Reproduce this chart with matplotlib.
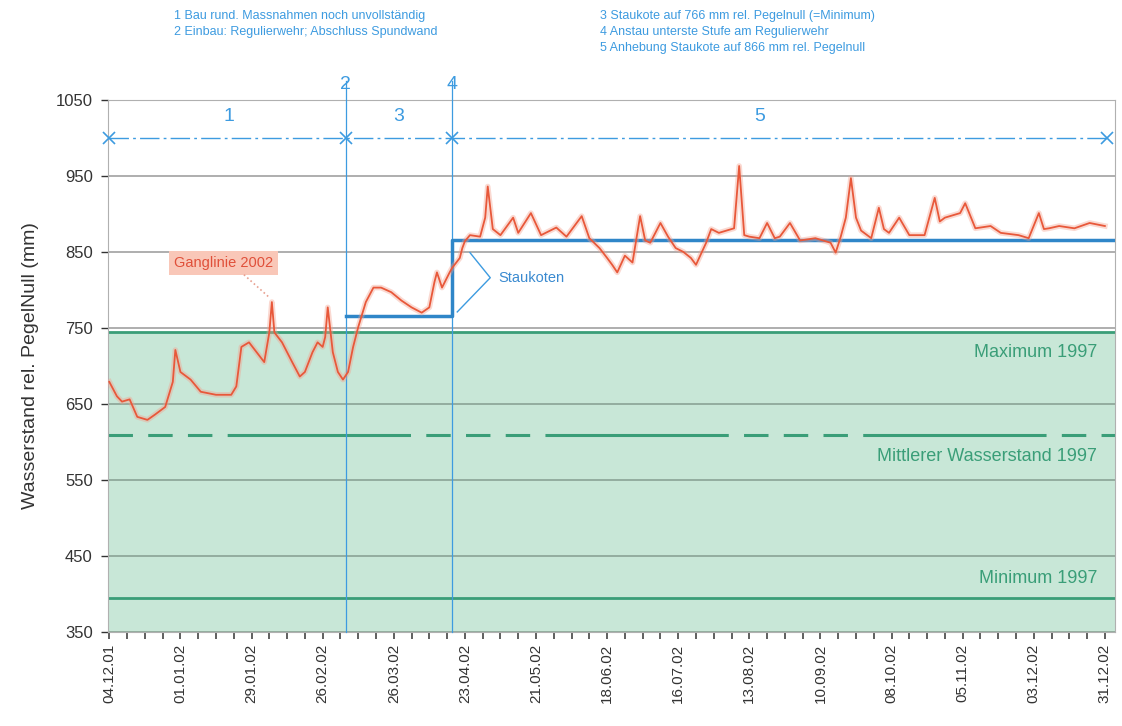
import matplotlib
matplotlib.use('Agg')
import matplotlib.pyplot as plt
import numpy as np
import pandas as pd

plt.rcParams['font.family'] = ['Liberation Sans', 'DejaVu Sans']

START = pd.Timestamp('2001-12-04')

# Ganglinie 2002: Tage ab 04.12.01 und Wasserstand (mm rel. PegelNull)
gang_tage = [0, 3, 5, 8, 11, 15, 18, 22, 25, 26, 28, 32, 36, 42, 48, 50, 52, 55,
             58, 61, 63, 64, 65, 68, 72, 75, 77, 80, 82, 84, 85, 86, 88, 90, 92,
             94, 96, 98, 101, 104, 107, 111, 115, 119, 123, 126, 128, 129, 131,
             134, 135, 138, 139, 140, 142, 146, 148, 149, 151, 154, 159, 161,
             166, 170, 176, 180, 186, 189, 193, 196, 198, 200, 203, 206, 209,
             211, 213, 217, 220, 223, 226, 229, 231, 235, 237, 240, 246, 248,
             250, 252, 256, 259, 262, 264, 268, 272, 278, 284, 286, 288, 290,
             292, 294, 296, 300, 303, 305, 307, 311, 315, 321, 325, 327, 329,
             335, 337, 341, 347, 351, 358, 362, 366, 368, 370, 374, 380, 386, 392]
gang_werte = [679, 660, 653, 656, 633, 629, 636, 646, 679, 721, 692, 682, 666,
              662, 662, 673, 725, 731, 718, 705, 744, 784, 744, 731, 705, 686,
              692, 718, 731, 725, 738, 777, 718, 692, 682, 692, 725, 751, 784,
              803, 803, 797, 786, 777, 770, 777, 810, 823, 803, 823, 829, 842,
              855, 864, 872, 870, 895, 936, 880, 872, 895, 875, 901, 872, 882,
              870, 897, 868, 855, 842, 833, 823, 845, 836, 897, 865, 862, 888,
              870, 855, 850, 842, 833, 862, 880, 875, 881, 963, 872, 870, 868,
              888, 868, 870, 888, 865, 868, 862, 849, 870, 895, 947, 895, 878,
              868, 908, 880, 875, 895, 872, 872, 921, 890, 895, 901, 914, 881,
              884, 875, 872, 868, 901, 880, 881, 884, 881, 888, 884]

# Staukoten
stau_tage = [93, 135, 135, 396]
stau_werte = [766, 766, 866, 866]

# Kennwerte 1997
max_1997 = 745
mittel_1997 = 609
min_1997 = 395

# Bauphasen
phasen_grenzen = [0, 93, 135, 393]
phasen_labels = ['1', '3', '5']
phasen_mitte = [47, 114, 256]
linien_tage = [93, 135]
linien_labels = ['2', '4']

legende_links = ['1 Bau rund. Massnahmen noch unvollständig',
                 '2 Einbau: Regulierwehr; Abschluss Spundwand']
legende_rechts = ['3 Staukote auf 766 mm rel. Pegelnull (=Minimum)',
                  '4 Anstau unterste Stufe am Regulierwehr',
                  '5 Anhebung Staukote auf 866 mm rel. Pegelnull']

BLUE = '#3d9be0'
GREEN = '#3a9e78'
RED = '#e8583a'


def d(tage):
    return START + pd.to_timedelta(np.asarray(tage), unit='D')


fig = plt.figure(figsize=(11.22, 7.26), dpi=100)
ax = fig.add_axes([0.0963, 0.1295, 0.8975, 0.733])

ax.set_ylim(350, 1050)
ax.set_xlim(START - pd.Timedelta(days=0.5), START + pd.Timedelta(days=396))

# Bereich 1997
ax.axhspan(350, max_1997, color='#c8e7d7', zorder=0)
for y in range(350, 1051, 100):
    c = '#8fa89b' if y < max_1997 else '#a8a8a8'
    ax.axhline(y, color=c, lw=1.3, zorder=1)
ax.axhline(max_1997, color=GREEN, lw=2, zorder=2)
ax.axhline(min_1997, color=GREEN, lw=2, zorder=2)
ax.axhline(mittel_1997, color=GREEN, lw=2.2, zorder=2,
           dashes=(8, 5, 8, 5, 8, 5, 60, 5))
tx = START + pd.Timedelta(days=389)
ax.text(tx, 718, 'Maximum 1997', color=GREEN, fontsize=13, ha='right', va='center')
ax.text(tx, 581, 'Mittlerer Wasserstand 1997', color=GREEN, fontsize=13,
        ha='right', va='center')
ax.text(tx, 421, 'Minimum 1997', color=GREEN, fontsize=13, ha='right', va='center')

# Staukoten
ax.plot(d(stau_tage), stau_werte, color='#2f86c8', lw=2.5, zorder=4)

# Ganglinie
x = d(gang_tage)
ax.plot(x, gang_werte, color='#f4a08e', lw=4, alpha=0.4, zorder=5)
ax.plot(x, gang_werte, color=RED, lw=1.3, zorder=6)

# Phasen
for t in linien_tage:
    ax.plot([d([t])[0]] * 2, [350, 1075], color=BLUE, lw=0.9, zorder=3,
            clip_on=False)
ax.plot(d(phasen_grenzen), [1000] * len(phasen_grenzen), color=BLUE, lw=1,
        dashes=(14, 3, 2, 3), marker='x', ms=8, mew=1.2, zorder=7, clip_on=False)
for t, lab in zip(phasen_mitte, phasen_labels):
    ax.text(d([t])[0], 1028, lab, color=BLUE, fontsize=14, ha='center', va='center')
for t, lab in zip(linien_tage, linien_labels):
    ax.text(d([t])[0], 1070, lab, color=BLUE, fontsize=14, ha='center',
            va='center', clip_on=False)

# Beschriftungen
ax.plot(d([142, 150, 137]), [849, 816, 771], color=BLUE, lw=1, zorder=7)
ax.text(d([153])[0], 816, 'Staukoten', color='#3a8ad0', fontsize=10.5, va='center')
ax.text(d([45])[0], 835, 'Ganglinie 2002', color='#e0503a', fontsize=10.5,
        ha='center', va='center',
        bbox=dict(boxstyle='square,pad=0.35', fc='#f9c7b8', ec='none'))
ax.plot(d([53, 63]), [820, 790], color='#e8a090', lw=1.2, ls=':', zorder=5)

# Achsen
ax.set_yticks(range(350, 1051, 100))
ax.tick_params(axis='y', labelsize=12, colors='#333333', length=5, width=1,
               pad=6)
ticks = d(np.arange(0, 393, 28))
ax.set_xticks(ticks)
ax.set_xticks(d(np.arange(0, 393, 7)), minor=True)
ax.set_xticklabels([t.strftime('%d.%m.%y') for t in ticks], rotation=90,
                   fontsize=11, color='#333333')
ax.tick_params(axis='x', which='both', length=5, width=1.2, colors='#444444')
ax.tick_params(axis='x', labelcolor='#333333')
for s in ax.spines.values():
    s.set_color('#b0b0b0')
ax.set_ylabel('Wasserstand rel. PegelNull (mm)', fontsize=14, color='#333333',
              labelpad=12)

for i, s in enumerate(legende_links):
    fig.text(0.155, 0.978 - i * 0.022, s, color=BLUE, fontsize=9, va='center')
for i, s in enumerate(legende_rechts):
    fig.text(0.535, 0.978 - i * 0.022, s, color=BLUE, fontsize=9, va='center')

fig.savefig('out.png', dpi=100)
